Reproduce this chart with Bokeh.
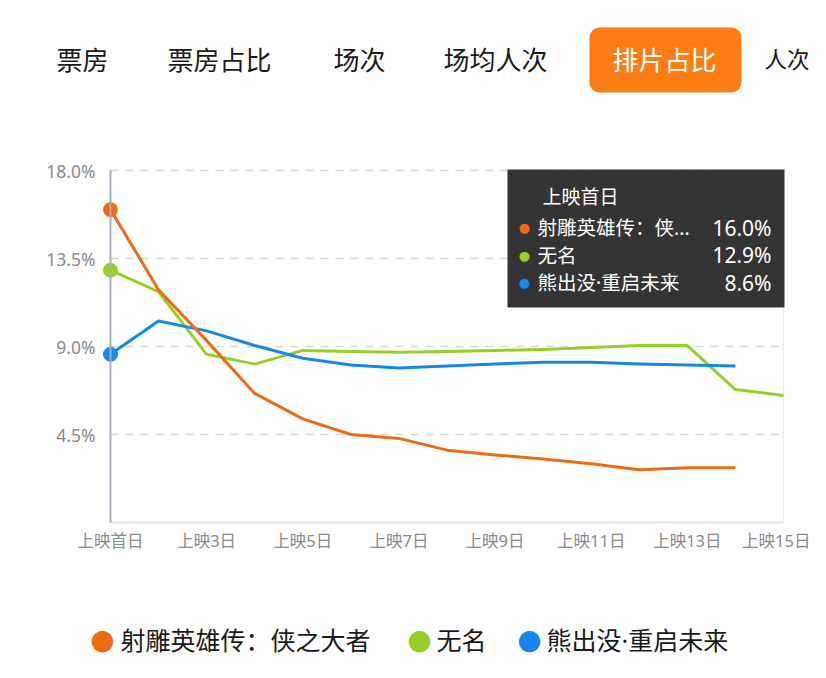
from bokeh.plotting import figure
from bokeh.models import Label, BoxAnnotation, FixedTicker, Range1d
from bokeh.embed import file_html
from bokeh.resources import INLINE

# ---------------- data ----------------
days_a = list(range(1, 15))   # 射雕英雄传
days_b = list(range(1, 16))   # 无名
days_c = list(range(1, 15))   # 熊出没
share_a = [16.0, 11.9, 9.3, 6.6, 5.3, 4.5, 4.3, 3.7, 3.45, 3.25, 3.0, 2.7, 2.8, 2.8]
share_b = [12.9, 11.8, 8.6, 8.1, 8.8, 8.75, 8.7, 8.75, 8.8, 8.85, 8.95, 9.05, 9.05, 6.8, 6.5]
share_c = [8.6, 10.3, 9.8, 9.05, 8.4, 8.05, 7.9, 8.0, 8.1, 8.2, 8.2, 8.1, 8.05, 8.0]
series_names = ["射雕英雄传：侠之大者", "无名", "熊出没·重启未来"]
tooltip_names = ["射雕英雄传：侠...", "无名", "熊出没·重启未来"]
x_tick_days = [1, 3, 5, 7, 9, 11, 13, 15]
x_tick_labels = ["上映首日", "上映3日", "上映5日", "上映7日", "上映9日", "上映11日", "上映13日", "上映15日"]
y_ticks = [4.5, 9.0, 13.5, 18.0]
y_tick_labels = ["4.5%", "9.0%", "13.5%", "18.0%"]
tabs = ["票房", "票房占比", "场次", "场均人次", "排片占比", "人次"]
active_tab = "排片占比"

colors = ["#ef6b12", "#95d124", "#1788e8"]
FONT = "Noto Sans, Noto Sans CJK SC"

W, H = 810, 662
# layout: pixel positions of the plot area inside the canvas
X_DAY1, X_DAY15 = 110, 783
Y_ZERO, Y_TOP = 522, 170
XPPD = (X_DAY15 - X_DAY1) / 14.0
YPPU = (Y_ZERO - Y_TOP) / 18.0

def dx(px):
    return 1 + (px - X_DAY1) / XPPD

def dy(py):
    return (Y_ZERO - py) / YPPU

p = figure(width=W, height=H, output_backend="svg", toolbar_location=None,
           x_range=Range1d(dx(0), dx(W)), y_range=Range1d(dy(H), dy(0)),
           min_border=0)
p.outline_line_color = None
p.background_fill_color = "white"
p.border_fill_color = "white"

# axes (placed at the data origin, inside the canvas)
p.yaxis.fixed_location = 1
p.yaxis.bounds = (0, 18)
p.yaxis.ticker = FixedTicker(ticks=y_ticks)
p.yaxis.major_label_overrides = {t: l for t, l in zip(y_ticks, y_tick_labels)}
p.yaxis.axis_line_color = "#a7aebb"
p.yaxis.axis_line_width = 2
p.yaxis.major_tick_line_color = None
p.yaxis.minor_tick_line_color = None
p.yaxis.major_label_text_color = "#8a8a8a"
p.yaxis.major_label_text_font = FONT
p.yaxis.major_label_text_font_size = "17.5px"
p.yaxis.major_label_standoff = 9

p.xaxis.fixed_location = 0
p.xaxis.bounds = (1, 15)
p.xaxis.ticker = FixedTicker(ticks=x_tick_days)
p.xaxis.major_label_overrides = {t: l for t, l in zip(x_tick_days, x_tick_labels)}
p.xaxis.axis_line_color = "#dedede"
p.xaxis.axis_line_width = 1.5
p.xaxis.major_tick_line_color = None
p.xaxis.minor_tick_line_color = None
p.xaxis.major_label_text_color = "#8a8a8a"
p.xaxis.major_label_text_font = FONT
p.xaxis.major_label_text_font_size = "16.5px"
p.xaxis.major_label_standoff = 0

p.xgrid.visible = False
p.ygrid.visible = False
# dashed horizontal grid lines at the y ticks, spanning the day range
p.segment(x0=[x_tick_days[0]] * len(y_ticks), x1=[x_tick_days[-1]] * len(y_ticks),
          y0=y_ticks, y1=y_ticks, line_color="#d8d8d8", line_width=1.3, line_dash="8 7")
# faint right border of the plot area
p.segment(x0=[x_tick_days[-1]], x1=[x_tick_days[-1]], y0=[0], y1=[y_ticks[-1]],
          line_color="#ececec", line_width=1.2)

# lines
for xs, ys, c in [(days_b, share_b, colors[1]), (days_c, share_c, colors[2]), (days_a, share_a, colors[0])]:
    p.line(xs, ys, line_color=c, line_width=3, line_join="round")
for xs, ys, c in [(days_a, share_a, colors[0]), (days_b, share_b, colors[1]), (days_c, share_c, colors[2])]:
    p.scatter(xs[:1], ys[:1], size=14, fill_color=c, line_color=c)

# tabs
tab_lefts = [56, 167, 333, 443, 612, 764]
p.add_layout(BoxAnnotation(left=dx(589), right=dx(741), top=dy(27), bottom=dy(92),
                           fill_color="#fc7d16", fill_alpha=1, line_alpha=0, border_radius=10))
for t, lx in zip(tabs, tab_lefts):
    fs = "26px" if t != tabs[-1] else "22.5px"
    p.add_layout(Label(x=dx(lx), y=dy(59), text=t, text_align="left", text_baseline="middle",
                       text_font=FONT, text_font_size=fs,
                       text_color="white" if t == active_tab else "#1a1a1a"))

# tooltip
p.add_layout(BoxAnnotation(left=dx(507), right=dx(784), top=dy(169), bottom=dy(307),
                           fill_color="#2d2d2d", fill_alpha=0.97, line_alpha=0))
p.add_layout(Label(x=dx(542), y=dy(196), text=x_tick_labels[0], text_align="left", text_baseline="middle",
                   text_font=FONT, text_font_size="19px", text_color="white"))
row_y = [227, 254.5, 282]
first_vals = [share_a[0], share_b[0], share_c[0]]
for nm, v, c, ry in zip(tooltip_names, first_vals, colors, row_y):
    p.add_layout(Label(x=dx(524), y=dy(ry), text="●", text_align="center", text_baseline="middle",
                       text_font="DejaVu Sans", text_font_size="13px", text_color=c))
    p.add_layout(Label(x=dx(537), y=dy(ry), text=nm, text_align="left", text_baseline="middle",
                       text_font=FONT, text_font_size="19.5px", text_color="white"))
    p.add_layout(Label(x=dx(771), y=dy(ry), text=f"{v:.1f}%", text_align="right", text_baseline="middle",
                       text_font=FONT, text_font_size="21px", text_color="white"))

# bottom legend
leg_dot_x = [102, 419, 529]
leg_txt_x = [120, 436, 546]
for nm, c, ddx, tx in zip(series_names, colors, leg_dot_x, leg_txt_x):
    p.add_layout(Label(x=dx(ddx), y=dy(639), text="●", text_align="center", text_baseline="middle",
                       text_font="DejaVu Sans", text_font_size="28px", text_color=c))
    p.add_layout(Label(x=dx(tx), y=dy(639), text=nm, text_align="left", text_baseline="middle",
                       text_font=FONT, text_font_size="25px", text_color="#1a1a1a"))

open("out.html", "w").write(file_html(p, INLINE))
